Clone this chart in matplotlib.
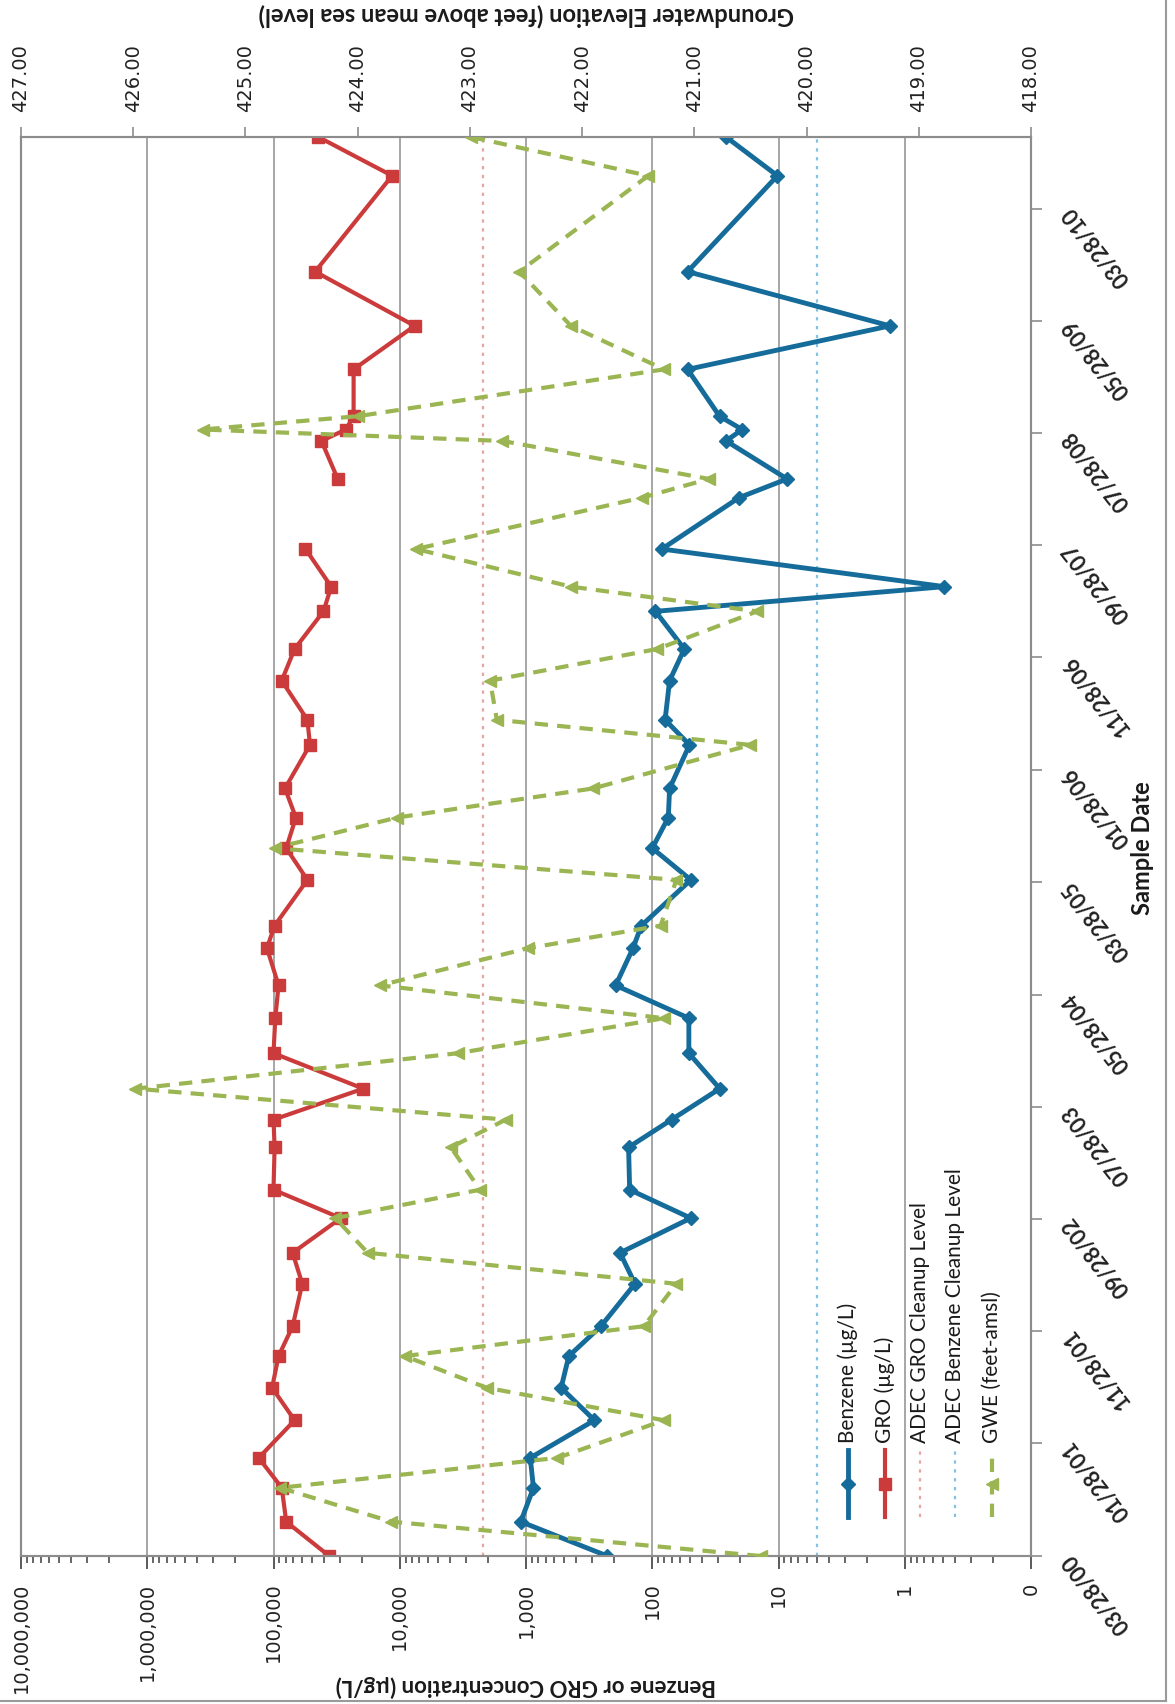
import matplotlib
matplotlib.use('Agg')
import matplotlib.pyplot as plt
import matplotlib.dates as mdates
from matplotlib.lines import Line2D
from matplotlib.ticker import NullLocator
import numpy as np
import pandas as pd

# quarterly monitoring results, oldest first
SAMPLE_DATES = [
    '2000-03-28', '2000-06-29', '2000-09-29', '2000-12-19', '2001-03-31', '2001-06-27',
    '2001-09-21', '2001-12-11', '2002-04-05', '2002-06-28', '2002-09-30', '2002-12-16',
    '2003-04-10', '2003-06-24', '2003-09-16', '2003-12-21', '2004-03-25', '2004-06-22',
    '2004-10-01', '2004-12-01', '2005-04-04', '2005-06-29', '2005-09-20', '2005-12-08',
    '2006-04-05', '2006-06-12', '2006-09-26', '2006-12-21', '2007-04-02', '2007-06-08',
    '2007-09-18', '2008-02-04', '2008-03-26', '2008-07-07', '2008-08-07', '2008-09-12',
    '2009-01-17', '2009-05-15', '2009-10-09', '2010-06-26', '2010-10-09',
]
BENZENE = [
    227, 1100, 873, 925, 287, 527, 458, 255, 137, 180, 49.5, 151,
    154, 70.3, 29.2, 51.3, 51.3, 195, 142, 122, 49.5, 100, 74.6, 72.9,
    50.7, 79.1, 72.9, 55.7, 94.3, 0.485, 83.9, 20.6, 8.55, 26.0, 19.4, 29.3,
    52.5, 1.31, 52.5, 10.2, 26.0,
]
GRO = [
    36200, 79300, 86000, 131000, 68000, 102600, 91200, 70500, 59200, 70500, 29300, 100000,
    98000, 100000, 19450, 100000, 96800, 91200, 112700, 98000, 53900, 79300, 66500, 81100,
    51400, 53900, 86100, 68100, 40200, 34900, 55800, np.nan, 31000, 41700, 26700, 23200,
    23200, 7620, 46800, 11500, 44100,
]
GWE = [
    420.41, 423.70, 424.69, 422.22, 421.27, 422.85, 423.58, 421.45, 421.16, 423.91, 424.20, 422.91,
    423.17, 422.68, 425.98, 423.11, 421.27, 423.80, 422.48, 421.30, 421.16, 424.74, 423.65, 421.90,
    420.50, 422.76, 422.82, 421.33, 420.44, 422.10, 423.48, 421.47, 420.87, 422.71, 425.38, 424.00,
    421.27, 422.10, 422.56, 421.41, 422.99,
]

GRO_CLEANUP = 2200
BENZENE_CLEANUP = 5

CONC_TICKS = [1e7, 1e6, 1e5, 1e4, 1e3, 1e2, 10, 1, 0.1]
CONC_LABELS = ['10,000,000', '1,000,000', '100,000', '10,000', '1,000', '100', '10', '1', '0']
ELEV_TICKS = [427, 426, 425, 424, 423, 422, 421, 420, 419, 418]
DATE_TICKS = [
    '2000-03-28', '2001-01-28', '2001-11-28', '2002-09-28', '2003-07-28', '2004-05-28', '2005-03-28',
    '2006-01-28', '2006-11-28', '2007-09-28', '2008-07-28', '2009-05-28', '2010-03-28',
]

BENZ_COLOR = '#156b99'
GRO_COLOR = '#cc3b3b'
GWE_COLOR = '#9bb552'
GRO_LINE_COLOR = '#eba3a3'
BENZ_LINE_COLOR = '#86c3e3'
GRID_COLOR = '#a6a6a6'
SPINE_COLOR = '#8c8c8c'
TICK_COLOR = '#5a5a5a'

W, H = 1175, 1704
LEFT, TOP, RIGHT, BOTTOM = 21, 137, 1031, 1556

TITLE_FONT = ['Lato', 'DejaVu Sans']


def main():
    dates = pd.to_datetime(SAMPLE_DATES)

    fig = plt.figure(figsize=(W / 100, H / 100), dpi=100)
    fig.patch.set_facecolor('white')
    ax = fig.add_axes([LEFT / W, 1 - BOTTOM / H, (RIGHT - LEFT) / W, (BOTTOM - TOP) / H])

    # concentration runs across the page, log scale, high values on the left
    ax.set_xscale('log')
    ax.grid(axis='x', which='major', color=GRID_COLOR, lw=1.4, zorder=0)
    ax.axvline(GRO_CLEANUP, color=GRO_LINE_COLOR, ls=(0, (1.5, 2.5)), lw=1.6, zorder=1)
    ax.axvline(BENZENE_CLEANUP, color=BENZ_LINE_COLOR, ls=(0, (1.5, 2.5)), lw=1.6, zorder=1)

    ax.plot(GRO, dates, color=GRO_COLOR, lw=3.0, marker='s', ms=8.5,
            mec=GRO_COLOR, mfc=GRO_COLOR, zorder=3)
    ax.plot(BENZENE, dates, color=BENZ_COLOR, lw=3.5, marker='D', ms=7.5,
            mec=BENZ_COLOR, mfc=BENZ_COLOR, zorder=4)

    ax.set_xticks(CONC_TICKS)
    ax.set_xticklabels(CONC_LABELS, rotation=90, fontsize=14, family='DejaVu Sans', color='#222222')
    ax.xaxis.set_minor_locator(NullLocator())
    ax.tick_params(axis='x', which='major', direction='out', length=9, width=1.4,
                   color=TICK_COLOR, pad=10)

    # minor marks between the decades, hanging below the axis line
    minor = [m * 10.0 ** e for e in range(-1, 7) for m in range(2, 10)]
    ax.vlines(minor, 0, -7 / (BOTTOM - TOP), transform=ax.get_xaxis_transform(),
              colors=TICK_COLOR, lw=1.3, clip_on=False, zorder=5)

    # sample date runs up the page, labels on the right
    ax.yaxis.tick_right()
    ax.set_yticks(pd.to_datetime(DATE_TICKS))
    ax.yaxis.set_major_formatter(mdates.DateFormatter('%m/%d/%y'))
    ax.tick_params(axis='y', direction='out', length=8, width=1.2, color=SPINE_COLOR, pad=18)
    for tick in ax.yaxis.get_major_ticks():
        lbl = tick.label2
        lbl.set_rotation(128)
        lbl.set_rotation_mode('anchor')
        lbl.set_ha('right')
        lbl.set_va('center')
        lbl.set_fontsize(15.5)
        lbl.set_family(TITLE_FONT)
        lbl.set_fontweight('bold')
        lbl.set_color('#222222')

    # groundwater elevation on its own scale along the top
    ax2 = ax.twiny()
    ax2.plot(GWE, dates, color=GWE_COLOR, lw=3.0, ls=(0, (3.2, 2.2)), marker='<', ms=9,
             mec=GWE_COLOR, mfc=GWE_COLOR, zorder=5)
    ax2.set_xticks(ELEV_TICKS)
    ax2.set_xticklabels(['%.2f' % v for v in ELEV_TICKS], rotation=90, fontsize=14,
                        family='DejaVu Sans', color='#222222')
    ax2.tick_params(axis='x', direction='out', length=7, width=1.2, color=SPINE_COLOR, pad=11)

    ax.set_xlim(1e7, 0.1)
    ax2.set_xlim(427, 418)
    ax.set_ylim(dates[0], dates[-1])

    for a in (ax, ax2):
        for side in a.spines.values():
            side.set_color(SPINE_COLOR)
            side.set_linewidth(1.5)
    ax.spines['left'].set_color('#6e6e6e')

    draw_key(ax2)

    fig.text(526 / W, 1 - 15 / H, 'Groundwater Elevation (feet above mean sea level)',
             rotation=180, ha='center', va='center', fontsize=17, fontweight='bold',
             family=TITLE_FONT, color='#1a1a1a')
    fig.text(526 / W, 1 - 1686 / H, 'Benzene or GRO Concentration (\u00b5g/L)',
             rotation=180, ha='center', va='center', fontsize=16, fontweight='bold',
             family=TITLE_FONT, color='#1a1a1a')
    fig.text(1143 / W, 1 - 848 / H, 'Sample Date', rotation=90, ha='center', va='center',
             fontsize=17, fontweight='bold', family=TITLE_FONT, color='#1a1a1a')

    # chart area border
    fig.add_artist(Line2D([1166 / W, 1166 / W], [1 - 1701 / H, 1], color='#9a9a9a', lw=1.5))
    fig.add_artist(Line2D([0, 1166 / W], [1 - 1701 / H, 1 - 1701 / H], color='#9a9a9a', lw=1.5))

    fig.savefig('out.png', dpi=100, facecolor='white')


def draw_key(ax):
    # the key reads along the page like the rest of the chart, so it is laid out by hand
    entries = [
        ('Benzene (\u00b5g/L)', dict(color=BENZ_COLOR, lw=3.5, marker='D', ms=7.5)),
        ('GRO (\u00b5g/L)', dict(color=GRO_COLOR, lw=3.0, marker='s', ms=8.5)),
        ('ADEC GRO Cleanup Level', dict(color=GRO_LINE_COLOR, lw=1.6, ls=(0, (1.5, 2.5)))),
        ('ADEC Benzene Cleanup Level', dict(color=BENZ_LINE_COLOR, lw=1.6, ls=(0, (1.5, 2.5)))),
        ('GWE (feet-amsl)', dict(color=GWE_COLOR, lw=3.0, ls=(0, (3.2, 2.2)), marker='<', ms=9)),
    ]
    x_px = [848, 885, 920, 955, 992]
    y_lo = (BOTTOM - 1517) / (BOTTOM - TOP)
    y_hi = (BOTTOM - 1450) / (BOTTOM - TOP)
    y_txt = (BOTTOM - 1443) / (BOTTOM - TOP)
    for (label, style), xp in zip(entries, x_px):
        xf = (xp - LEFT) / (RIGHT - LEFT)
        ax.plot([xf, xf, xf], [y_lo, (y_lo + y_hi) / 2, y_hi], transform=ax.transAxes,
                markevery=[1], clip_on=False, zorder=6, **style)
        ax.text(xf, y_txt, label, transform=ax.transAxes, rotation=90, ha='center', va='bottom',
                fontsize=15, family=TITLE_FONT, color='#1a1a1a')


if __name__ == '__main__':
    main()
